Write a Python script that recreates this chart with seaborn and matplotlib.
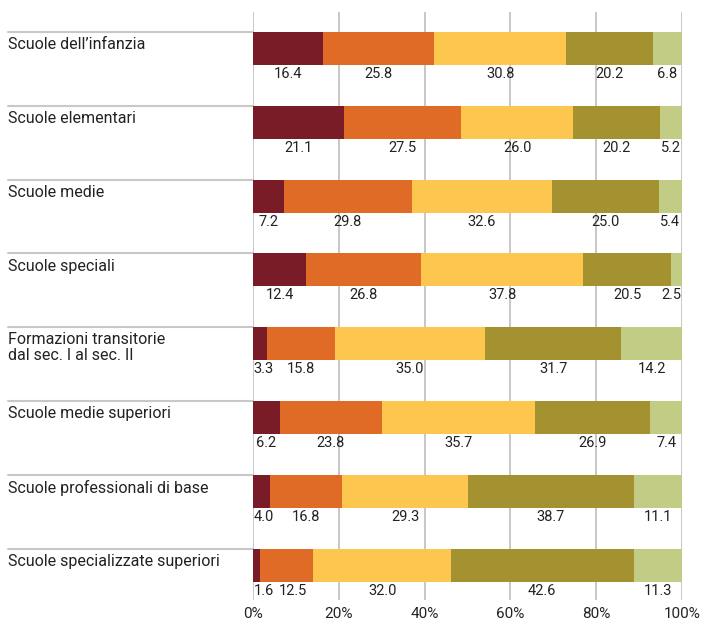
import matplotlib
matplotlib.use("Agg")
import matplotlib.pyplot as plt
import matplotlib.transforms as mtrans
import numpy as np
import pandas as pd
import seaborn as sns

categories = [
    "Scuole dell\u2019infanzia",
    "Scuole elementari",
    "Scuole medie",
    "Scuole speciali",
    "Formazioni transitorie\ndal sec. I al sec. II",
    "Scuole medie superiori",
    "Scuole professionali di base",
    "Scuole specializzate superiori",
]
s1 = [16.4, 21.1, 7.2, 12.4, 3.3, 6.2, 4.0, 1.6]
s2 = [25.8, 27.5, 29.8, 26.8, 15.8, 23.8, 16.8, 12.5]
s3 = [30.8, 26.0, 32.6, 37.8, 35.0, 35.7, 29.3, 32.0]
s4 = [20.2, 20.2, 25.0, 20.5, 31.7, 26.9, 38.7, 42.6]
s5 = [6.8, 5.2, 5.4, 2.5, 14.2, 7.4, 11.1, 11.3]
series = [s1, s2, s3, s4, s5]
colors = ["#7A1B28", "#E06B26", "#FDC74F", "#A3922F", "#C2CC85"]
tick_vals = [0, 20, 40, 60, 80, 100]
tick_labels = ["0%", "20%", "40%", "60%", "80%", "100%"]

sns.set_theme(style="white")
plt.rcParams["font.family"] = ["Roboto", "DejaVu Sans"]

fig = plt.figure(figsize=(7.02, 6.27), dpi=100)
ax = fig.add_axes([253 / 702, 27 / 627, 429 / 702, 588 / 627])

vals = np.array(series)
cum = np.cumsum(vals, axis=0)
df = pd.DataFrame({"cat": categories})
# draw cumulative totals from the largest to the smallest so they stack
for k in range(len(series) - 1, -1, -1):
    df["v"] = cum[k]
    sns.barplot(data=df, x="v", y="cat", orient="h", color=colors[k],
                width=0.447, saturation=1, ax=ax, linewidth=0, zorder=3)

ax.set_xlim(0, 100)
ax.set_ylim(7.472, -0.495)
ax.set_xlabel("")
ax.set_ylabel("")
ax.set_yticks([])
ax.set_xticks(tick_vals)
ax.set_xticklabels(tick_labels, fontsize=11, color="#222222")
ax.tick_params(axis="x", length=0, pad=5)
for sp in ax.spines.values():
    sp.set_visible(False)
for t in tick_vals:
    ax.axvline(t, color="#b8b8b8", lw=1.1, zorder=1)

# value labels, nudged so they stay inside the axis and do not collide
fig.canvas.draw()
renderer = fig.canvas.get_renderer()
px_per_unit = ax.bbox.width / 100.0
gap = 5 / px_per_unit
for i in range(len(categories)):
    left = 0.0
    prev_right = -1e9
    texts = []
    for k in range(len(series)):
        v = vals[k, i]
        t = ax.text(0, i + 0.345, f"{v:.1f}", ha="center", va="center",
                    fontsize=10.5, color="#222222", zorder=4)
        w = t.get_window_extent(renderer).width / px_per_unit
        c = left + v / 2
        c = min(max(c, w / 2 + 0.2), 100 - w / 2 - 0.2)
        if c - w / 2 < prev_right + gap:
            c = prev_right + gap + w / 2
        t.set_x(c)
        prev_right = c + w / 2
        left += v

# category labels and separator lines
trans = mtrans.blended_transform_factory(ax.transAxes, ax.transData)
x0 = (8 - 253) / 429
for i, cat in enumerate(categories):
    top = i - 0.2235
    ax.plot([x0, 0], [top, top], transform=trans, color="#c8c8c8", lw=1.5,
            clip_on=False, zorder=2)
    ax.text(x0, top + 0.07, cat, transform=trans, ha="left", va="top",
            fontsize=11.5, color="#222222", linespacing=1.05)

fig.savefig("out.png", dpi=100)
